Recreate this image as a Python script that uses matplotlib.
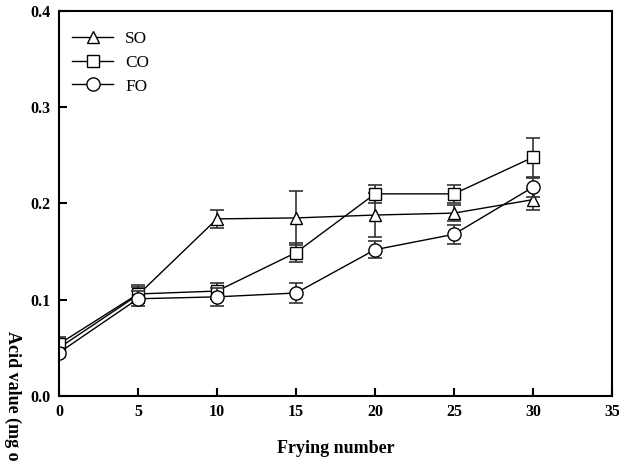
import matplotlib.pyplot as plt

plt.rcParams['font.family'] = ['Liberation Serif', 'DejaVu Serif']

frying = [0, 5, 10, 15, 20, 25, 30]

so = [0.050, 0.105, 0.184, 0.185, 0.188, 0.190, 0.204]
so_err = [0.006, 0.008, 0.009, 0.028, 0.023, 0.008, 0.011]

co = [0.054, 0.106, 0.109, 0.149, 0.210, 0.210, 0.248]
co_err = [0.007, 0.009, 0.008, 0.010, 0.009, 0.009, 0.020]

fo = [0.045, 0.101, 0.103, 0.107, 0.152, 0.168, 0.217]
fo_err = [0.005, 0.008, 0.009, 0.010, 0.009, 0.010, 0.010]

f = plt.figure(figsize=(6.19, 4.62), dpi=100)
ax = f.add_axes([0.0953, 0.1429, 0.8934, 0.8333])

series = [
    ('SO', so, so_err, '^', 9),
    ('CO', co, co_err, 's', 8),
    ('FO', fo, fo_err, 'o', 9.5),
]
for label, y, err, m, ms in series:
    ax.errorbar(frying, y, yerr=err, fmt='none',
                ecolor='#333333', elinewidth=1.2, capsize=5, capthick=1.2)
    ax.plot(frying, y, label=label, color='k', linewidth=1,
            marker=m, markersize=ms, markerfacecolor='white',
            markeredgecolor='k', markeredgewidth=1)

ax.set_xlim(0, 35)
ax.set_ylim(0, 0.4)
ax.set_xticks([0, 5, 10, 15, 20, 25, 30, 35])
ax.set_yticks([0.0, 0.1, 0.2, 0.3, 0.4])
ax.set_yticklabels(['0.0', '0.1', '0.2', '0.3', '0.4'])
ax.tick_params(direction='in', length=6, width=1.5, labelsize=11.5, pad=6)
for lab in ax.get_xticklabels() + ax.get_yticklabels():
    lab.set_fontweight('bold')
for sp in ax.spines.values():
    sp.set_linewidth(1.5)

ax.set_xlabel('Frying number', fontsize=13, fontweight='bold', labelpad=14)
f.text(0.02, 0.284, 'Acid value (mg of KOH/g)', rotation=270,
       ha='center', va='top', fontsize=13, fontweight='bold')

ax.legend(loc='upper left', bbox_to_anchor=(0, 0.982), frameon=False,
          fontsize=12.4, handlelength=2.4, borderaxespad=0.35,
          labelspacing=0.45, handletextpad=0.7)

f.savefig('out.png')
